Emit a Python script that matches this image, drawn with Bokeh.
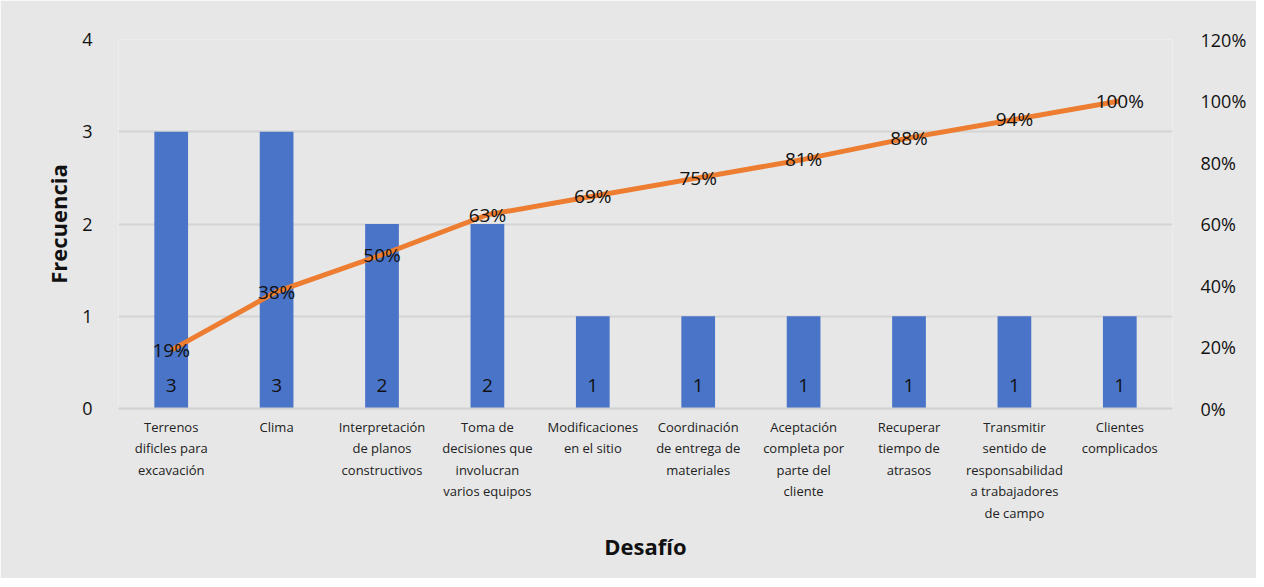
from bokeh.plotting import figure
from bokeh.models import ColumnDataSource, LinearAxis, Range1d, FixedTicker, NumeralTickFormatter, LabelSet
from bokeh.core.properties import value
from bokeh.embed import file_html
from bokeh.resources import INLINE

categories = [
    "Terrenos\ndificles para\nexcavación",
    "Clima",
    "Interpretación\nde planos\nconstructivos",
    "Toma de\ndecisiones que\ninvolucran\nvarios equipos",
    "Modificaciones\nen el sitio",
    "Coordinación\nde entrega de\nmateriales",
    "Aceptación\ncompleta por\nparte del\ncliente",
    "Recuperar\ntiempo de\natrasos",
    "Transmitir\nsentido de\nresponsabilidad\na trabajadores\nde campo",
    "Clientes\ncomplicados",
]
frecuencia = [3, 3, 2, 2, 1, 1, 1, 1, 1, 1]
acumulado = [0.19, 0.38, 0.50, 0.63, 0.69, 0.75, 0.81, 0.88, 0.94, 1.00]
left_ticks = [0, 1, 2, 3, 4]
right_ticks = [0, 0.2, 0.4, 0.6, 0.8, 1.0, 1.2]

FONT = "Open Sans"
BG = "#e7e7e7"

src = ColumnDataSource(dict(
    cat=categories,
    val=frecuencia,
    val_lbl=[str(v) for v in frecuencia],
    lbl_y=[0.25] * len(frecuencia),
    pct=acumulado,
    pct_lbl=[f"{round(p*100)}%" for p in acumulado],
))

p = figure(x_range=categories, y_range=Range1d(0, 4), width=1256, height=578,
           output_backend="svg", toolbar_location=None,
           min_border_left=118, min_border_right=84, min_border_top=39, min_border_bottom=170)
p.background_fill_color = BG
p.border_fill_color = BG
p.outline_line_color = None

p.vbar(x="cat", top="val", width=0.32, source=src, fill_color="#4a74c8", line_color=None)

p.extra_y_ranges = {"pct": Range1d(0, 1.2)}
p.line(x="cat", y="pct", source=src, y_range_name="pct", line_color="#ed7d31", line_width=5)

p.add_layout(LabelSet(x="cat", y="lbl_y", text="val_lbl", source=src, text_align="center",
                      text_baseline="middle", text_font=value(FONT), text_font_size="19px",
                      text_color="#111111"))
p.add_layout(LabelSet(x="cat", y="pct", y_range_name="pct", text="pct_lbl", source=src,
                      text_align="center", text_baseline="middle", text_font=value(FONT),
                      text_font_size="19px", text_color="#111111"))

# left axis
ya = p.yaxis[0]
ya.ticker = FixedTicker(ticks=left_ticks)
ya.axis_line_color = None
ya.major_tick_line_color = None
ya.minor_tick_line_color = None
ya.major_label_text_font = FONT
ya.major_label_text_font_size = "18px"
ya.major_label_text_color = "#111111"
ya.major_label_standoff = 20
ya.axis_label = "Frecuencia"
ya.axis_label_text_font = FONT
ya.axis_label_text_font_size = "22px"
ya.axis_label_text_font_style = "bold"
ya.axis_label_text_color = "#111111"
ya.axis_label_standoff = 6

ra = LinearAxis(y_range_name="pct", ticker=FixedTicker(ticks=right_ticks),
                formatter=NumeralTickFormatter(format="0%"))
ra.axis_line_color = None
ra.major_tick_line_color = None
ra.minor_tick_line_color = None
ra.major_label_text_font = FONT
ra.major_label_text_font_size = "18px"
ra.major_label_text_color = "#111111"
ra.major_label_standoff = 22
p.add_layout(ra, "right")

xa = p.xaxis[0]
xa.axis_line_color = "#d0d0d0"
xa.axis_line_width = 2
xa.major_tick_line_color = None
xa.minor_tick_line_color = None
xa.major_label_text_font = FONT
xa.major_label_text_font_size = "13px"
xa.major_label_text_color = "#222222"
xa.major_label_standoff = 3
xa.axis_label = "Desafío"
xa.axis_label_text_font = FONT
xa.axis_label_text_font_size = "22px"
xa.axis_label_text_font_style = "bold"
xa.axis_label_text_color = "#111111"
xa.axis_label_standoff = 6

p.xgrid.grid_line_color = None
p.ygrid.grid_line_color = "#d4d4d4"
p.ygrid.grid_line_width = 2
p.ygrid.ticker = FixedTicker(ticks=left_ticks)

open("out.html", "w").write(file_html(p, INLINE))
